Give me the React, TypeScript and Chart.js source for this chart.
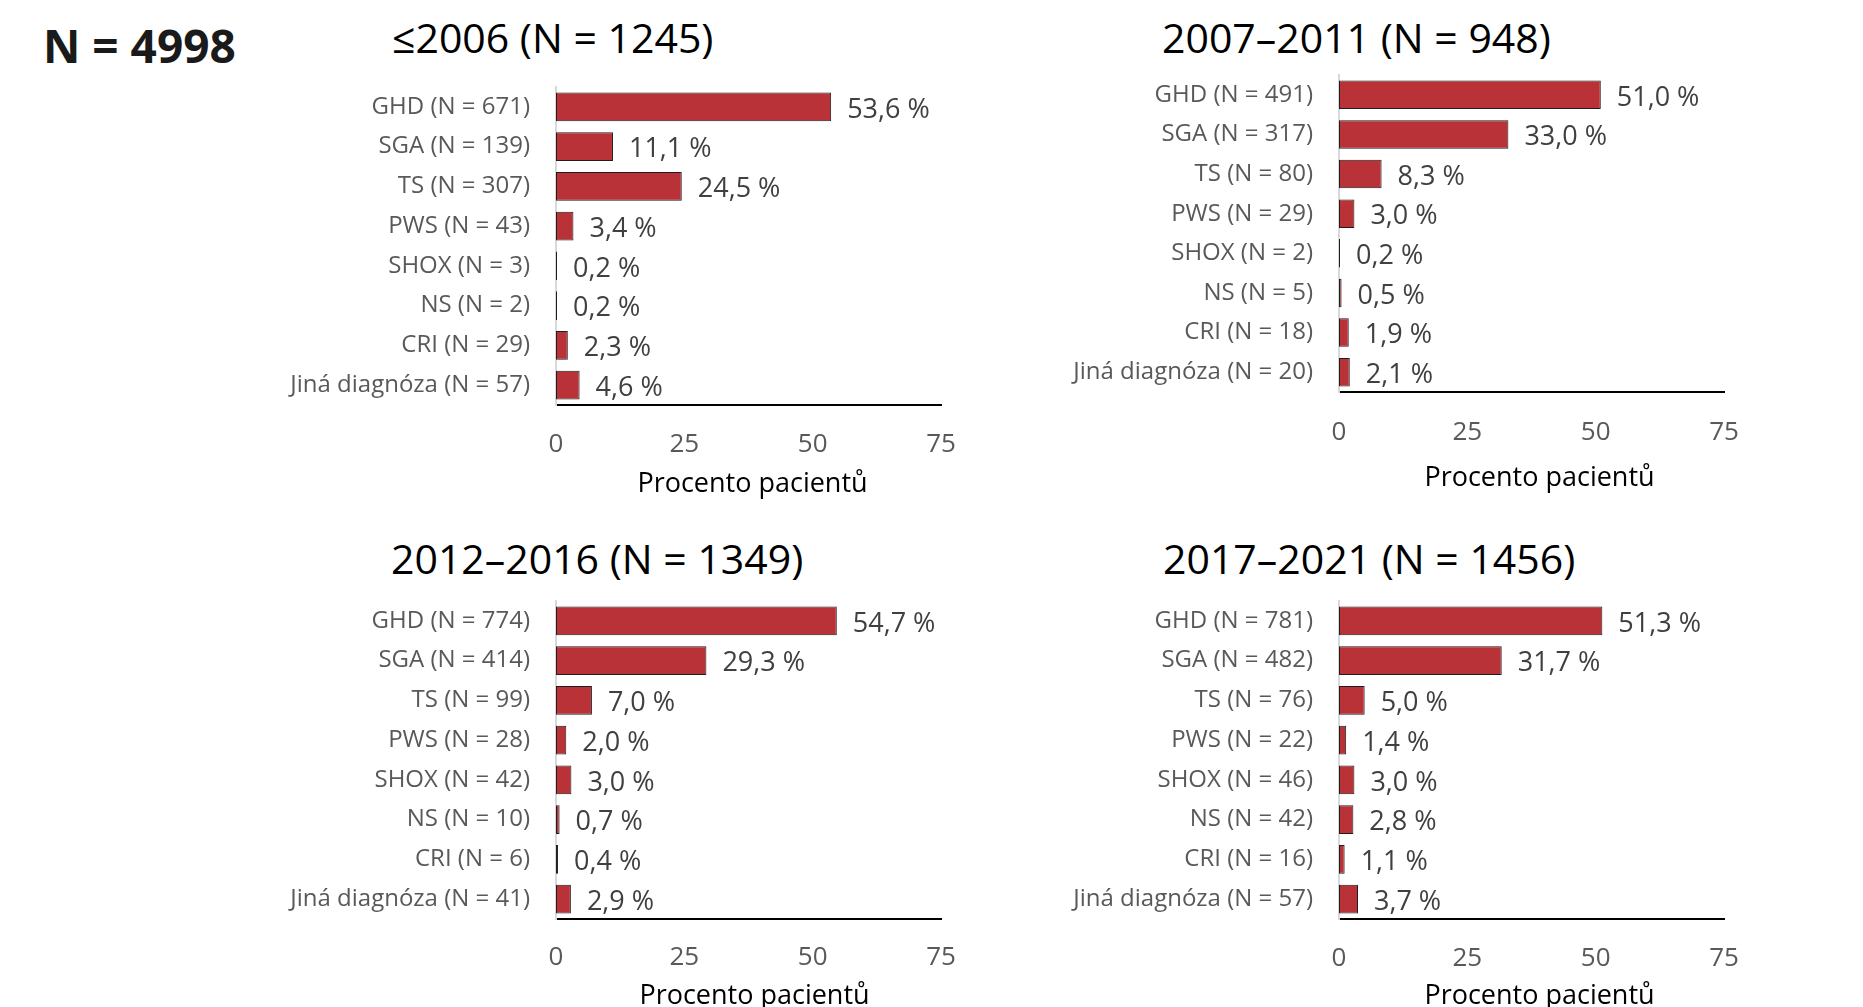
import React, { useEffect, useRef } from 'react';
import { Chart, registerables } from 'chart.js';

Chart.register(...registerables);

const FONT = "'Open Sans', sans-serif";

const diagnoses = ['GHD', 'SGA', 'TS', 'PWS', 'SHOX', 'NS', 'CRI', 'Jiná diagnóza'];

const counts2006 = [671, 139, 307, 43, 3, 2, 29, 57];
const pct2006 = [53.6, 11.1, 24.5, 3.4, 0.2, 0.2, 2.3, 4.6];

const counts2011 = [491, 317, 80, 29, 2, 5, 18, 20];
const pct2011 = [51.0, 33.0, 8.3, 3.0, 0.2, 0.5, 1.9, 2.1];

const counts2016 = [774, 414, 99, 28, 42, 10, 6, 41];
const pct2016 = [54.7, 29.3, 7.0, 2.0, 3.0, 0.7, 0.4, 2.9];

const counts2021 = [781, 482, 76, 22, 46, 42, 16, 57];
const pct2021 = [51.3, 31.7, 5.0, 1.4, 3.0, 2.8, 1.1, 3.7];

const periodTitles = ['≤2006 (N = 1245)', '2007–2011 (N = 948)', '2012–2016 (N = 1349)', '2017–2021 (N = 1456)'];
const totalLabel = 'N = 4998';
const xAxisTitle = 'Procento pacientů';
const xMin = 0;
const xMax = 75;
const xStep = 25;

const LABEL_AREA = 356;
const PAD_TOP = 7;
const PAD_RIGHT = 19;

type PanelProps = {
  counts: number[];
  values: number[];
  plotLeft: number;
  plotRight: number;
  plotTop: number;
  plotBottom: number;
  tickCenter: number;
  axisTitleCenter: number;
  axisTitleShift: number;
};

function zeroPadding(s: any) {
  s.paddingTop = 0;
  s.paddingBottom = 0;
  s.paddingLeft = 0;
  s.paddingRight = 0;
}

function Panel(p: PanelProps) {
  const ref = useRef<HTMLCanvasElement>(null);
  const left = p.plotLeft - LABEL_AREA;
  const top = p.plotTop - PAD_TOP;
  const width = p.plotRight + PAD_RIGHT - left;
  const height = Math.round(p.axisTitleCenter + 16 - top);

  useEffect(() => {
    if (!ref.current) return;
    const xAxisH = top + height - p.plotBottom;
    const labels = diagnoses.map((d, i) => `${d} (N = ${p.counts[i]})`);
    const valueLabels = {
      id: 'valueLabels',
      afterDatasetsDraw(chart: any) {
        const ctx = chart.ctx;
        const meta = chart.getDatasetMeta(0);
        ctx.save();
        ctx.font = `27px ${FONT}`;
        ctx.fillStyle = '#404040';
        ctx.textAlign = 'left';
        ctx.textBaseline = 'middle';
        meta.data.forEach((bar: any, i: number) => {
          const v = p.values[i];
          ctx.fillText(v.toFixed(1).replace('.', ',') + ' %', bar.x + 16, bar.y + 3);
        });
        ctx.restore();
      },
    };
    const axisTitle = {
      id: 'axisTitle',
      afterDraw(chart: any) {
        const ctx = chart.ctx;
        const area = chart.chartArea;
        ctx.save();
        ctx.font = `27px ${FONT}`;
        ctx.fillStyle = '#000';
        ctx.textAlign = 'center';
        ctx.textBaseline = 'middle';
        ctx.fillText(xAxisTitle, (area.left + area.right) / 2 + p.axisTitleShift, p.axisTitleCenter - top);
        ctx.restore();
      },
    };
    const chart = new Chart(ref.current, {
      type: 'bar',
      data: {
        labels,
        datasets: [
          {
            data: p.values,
            backgroundColor: 'rgb(184, 50, 56)',
            borderColor: '#1e1e1e',
            borderWidth: 1,
            borderSkipped: false,
            barPercentage: 0.72,
            categoryPercentage: 1,
          },
        ],
      },
      options: {
        indexAxis: 'y',
        responsive: false,
        animation: false,
        devicePixelRatio: 1,
        layout: { padding: { top: PAD_TOP, right: PAD_RIGHT, left: 0, bottom: 0 } },
        plugins: {
          legend: { display: false },
          tooltip: { enabled: false },
          title: { display: false },
        },
        scales: {
          x: {
            min: xMin,
            max: xMax,
            ticks: {
              stepSize: xStep,
              padding: p.tickCenter - p.plotBottom - 15.6,
              color: '#595959',
              font: { family: FONT, size: 26 },
              maxRotation: 0,
            },
            grid: { display: false, drawTicks: false },
            border: { display: true, color: '#000', width: 2 },
            title: { display: false },
            afterFit: (s: any) => {
              s.height = xAxisH;
              zeroPadding(s);
            },
          },
          y: {
            ticks: { padding: 26, color: '#595959', font: { family: FONT, size: 24 } },
            grid: { display: false, drawTicks: false },
            border: { display: true, color: '#d9d9d9', width: 2 },
            afterFit: (s: any) => {
              s.width = LABEL_AREA;
              zeroPadding(s);
            },
          },
        },
      } as any,
      plugins: [valueLabels, axisTitle],
    });
    return () => chart.destroy();
  }, []);

  return (
    <canvas
      ref={ref}
      width={width}
      height={height}
      style={{ position: 'absolute', left, top, width, height }}
    />
  );
}

function Title({ text, left, centerY }: { text: string; left: number; centerY: number }) {
  return (
    <div
      style={{
        position: 'absolute',
        left,
        top: centerY - 0.531 * 41,
        fontFamily: FONT,
        fontSize: 41,
        lineHeight: '41px',
        color: '#000',
        whiteSpace: 'nowrap',
      }}
    >
      {text}
    </div>
  );
}

export default function App() {
  return (
    <div
      style={{
        position: 'fixed',
        left: 0,
        top: 0,
        width: 1863,
        height: 1007,
        overflow: 'hidden',
        background: '#fff',
      }}
    >
      <div
        style={{
          position: 'absolute',
          left: 43,
          top: 46 - 0.531 * 46,
          fontFamily: FONT,
          fontWeight: 700,
          fontSize: 46,
          lineHeight: '46px',
          color: '#1a1a1a',
          whiteSpace: 'nowrap',
        }}
      >
        {totalLabel}
      </div>
      <Title text={periodTitles[0]} left={392} centerY={39} />
      <Title text={periodTitles[1]} left={1162} centerY={39} />
      <Title text={periodTitles[2]} left={391} centerY={560} />
      <Title text={periodTitles[3]} left={1163} centerY={560} />
      <Panel counts={counts2006} values={pct2006} plotLeft={556} plotRight={941} plotTop={87} plotBottom={405} tickCenter={444.5} axisTitleCenter={484} axisTitleShift={4} />
      <Panel counts={counts2011} values={pct2011} plotLeft={1339} plotRight={1724} plotTop={75} plotBottom={392} tickCenter={432.5} axisTitleCenter={478} axisTitleShift={8} />
      <Panel counts={counts2016} values={pct2016} plotLeft={556} plotRight={941} plotTop={601} plotBottom={919} tickCenter={957.5} axisTitleCenter={996} axisTitleShift={6} />
      <Panel counts={counts2021} values={pct2021} plotLeft={1339} plotRight={1724} plotTop={601} plotBottom={919} tickCenter={958.5} axisTitleCenter={996} axisTitleShift={8} />
    </div>
  );
}
